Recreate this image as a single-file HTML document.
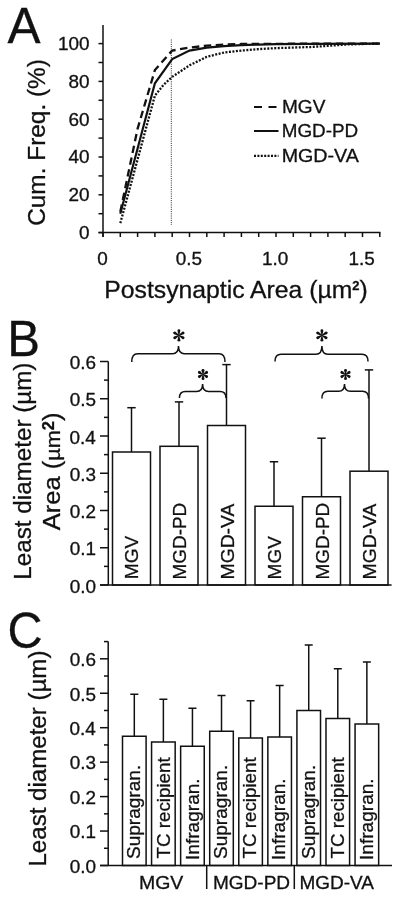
<!DOCTYPE html>
<html><head><meta charset="utf-8"><style>
html,body{margin:0;padding:0;background:#fff;width:400px;height:898px;overflow:hidden}
svg{display:block;will-change:transform}
text{font-family:"Liberation Sans", sans-serif;fill:#111;stroke:#111;stroke-width:0.3px}
</style></head><body>
<svg width="400" height="898" viewBox="0 0 400 898">
<text transform="translate(7.55,42.70) scale(0.9811,1)" font-size="50.5">A</text>
<line x1="103.00" y1="25.00" x2="103.00" y2="237.00" stroke="#111" stroke-width="1.5" />
<line x1="98.50" y1="232.60" x2="380.50" y2="232.60" stroke="#111" stroke-width="1.5" />
<line x1="98.50" y1="232.60" x2="103.00" y2="232.60" stroke="#111" stroke-width="1.5" />
<line x1="98.50" y1="213.70" x2="103.00" y2="213.70" stroke="#111" stroke-width="1.5" />
<line x1="98.50" y1="194.80" x2="103.00" y2="194.80" stroke="#111" stroke-width="1.5" />
<line x1="98.50" y1="175.90" x2="103.00" y2="175.90" stroke="#111" stroke-width="1.5" />
<line x1="98.50" y1="157.00" x2="103.00" y2="157.00" stroke="#111" stroke-width="1.5" />
<line x1="98.50" y1="138.10" x2="103.00" y2="138.10" stroke="#111" stroke-width="1.5" />
<line x1="98.50" y1="119.20" x2="103.00" y2="119.20" stroke="#111" stroke-width="1.5" />
<line x1="98.50" y1="100.30" x2="103.00" y2="100.30" stroke="#111" stroke-width="1.5" />
<line x1="98.50" y1="81.40" x2="103.00" y2="81.40" stroke="#111" stroke-width="1.5" />
<line x1="98.50" y1="62.50" x2="103.00" y2="62.50" stroke="#111" stroke-width="1.5" />
<line x1="98.50" y1="43.60" x2="103.00" y2="43.60" stroke="#111" stroke-width="1.5" />
<line x1="103.00" y1="232.60" x2="103.00" y2="237.00" stroke="#111" stroke-width="1.5" />
<line x1="120.30" y1="232.60" x2="120.30" y2="237.00" stroke="#111" stroke-width="1.5" />
<line x1="137.60" y1="232.60" x2="137.60" y2="237.00" stroke="#111" stroke-width="1.5" />
<line x1="154.90" y1="232.60" x2="154.90" y2="237.00" stroke="#111" stroke-width="1.5" />
<line x1="172.20" y1="232.60" x2="172.20" y2="237.00" stroke="#111" stroke-width="1.5" />
<line x1="189.50" y1="232.60" x2="189.50" y2="237.00" stroke="#111" stroke-width="1.5" />
<line x1="206.80" y1="232.60" x2="206.80" y2="237.00" stroke="#111" stroke-width="1.5" />
<line x1="224.10" y1="232.60" x2="224.10" y2="237.00" stroke="#111" stroke-width="1.5" />
<line x1="241.40" y1="232.60" x2="241.40" y2="237.00" stroke="#111" stroke-width="1.5" />
<line x1="258.70" y1="232.60" x2="258.70" y2="237.00" stroke="#111" stroke-width="1.5" />
<line x1="276.00" y1="232.60" x2="276.00" y2="237.00" stroke="#111" stroke-width="1.5" />
<line x1="293.30" y1="232.60" x2="293.30" y2="237.00" stroke="#111" stroke-width="1.5" />
<line x1="310.60" y1="232.60" x2="310.60" y2="237.00" stroke="#111" stroke-width="1.5" />
<line x1="327.90" y1="232.60" x2="327.90" y2="237.00" stroke="#111" stroke-width="1.5" />
<line x1="345.20" y1="232.60" x2="345.20" y2="237.00" stroke="#111" stroke-width="1.5" />
<line x1="362.50" y1="232.60" x2="362.50" y2="237.00" stroke="#111" stroke-width="1.5" />
<line x1="379.80" y1="232.60" x2="379.80" y2="237.00" stroke="#111" stroke-width="1.5" />
<text transform="translate(78.95,239.00) scale(1.0700,1)" font-size="17.7">0</text>
<text transform="translate(68.44,201.20) scale(1.0700,1)" font-size="17.7">20</text>
<text transform="translate(68.44,163.40) scale(1.0700,1)" font-size="17.7">40</text>
<text transform="translate(68.44,125.60) scale(1.0700,1)" font-size="17.7">60</text>
<text transform="translate(68.44,87.80) scale(1.0700,1)" font-size="17.7">80</text>
<text transform="translate(57.92,50.00) scale(1.0700,1)" font-size="17.7">100</text>
<text transform="translate(97.14,265.20) scale(1.0700,1)" font-size="17.7">0</text>
<text transform="translate(175.74,265.20) scale(1.0700,1)" font-size="17.7">0.5</text>
<text transform="translate(261.91,265.20) scale(1.0700,1)" font-size="17.7">1.0</text>
<text transform="translate(348.41,265.20) scale(1.0700,1)" font-size="17.7">1.5</text>
<text transform="translate(104.27,297.50) scale(1.0405,1)" font-size="23.8">Postsynaptic Area (µm<tspan font-size="12.5" font-weight="bold" dy="-8">2</tspan><tspan dy="8">)</tspan></text>
<text transform="translate(45.30,225.82) rotate(-90) scale(1.0008,1)" font-size="24.4">Cum. Freq. (%)</text>
<line x1="171.30" y1="39.50" x2="171.30" y2="225.00" stroke="#111" stroke-width="0.9" stroke-dasharray="1,1.2" stroke="#444"/>
<polyline points="120.30,223.15 154.90,95.57 163.55,84.80 172.20,76.86 189.50,65.34 206.80,56.83 224.10,52.48 241.40,50.59 258.70,49.08 276.00,48.14 293.30,47.57 310.60,47.00 327.90,45.87 345.20,44.55 362.50,43.98 379.80,43.60" fill="none" stroke="#111" stroke-width="2.3" stroke-linejoin="miter" stroke-dasharray="2,1.5"/>
<polyline points="120.30,213.70 154.90,83.29 172.20,59.10 189.50,50.59 206.80,47.57 224.10,46.06 241.40,45.11 258.70,44.55 276.00,44.17 310.60,43.79 379.80,43.60" fill="none" stroke="#111" stroke-width="2.2" stroke-linejoin="miter" />
<polyline points="120.30,211.81 137.60,128.65 154.90,70.06 172.20,50.59 189.50,47.57 206.80,45.68 224.10,44.55 241.40,43.98 276.00,43.79 379.80,43.60" fill="none" stroke="#111" stroke-width="2.3" stroke-linejoin="miter" stroke-dasharray="7.5,4.5"/>
<line x1="254.00" y1="107.00" x2="276.50" y2="107.00" stroke="#111" stroke-width="2.2" stroke-dasharray="8,6.5"/>
<line x1="254.00" y1="131.00" x2="278.50" y2="131.00" stroke="#111" stroke-width="2.0" />
<line x1="254.00" y1="155.80" x2="278.50" y2="155.80" stroke="#111" stroke-width="2.2" stroke-dasharray="2,1.4"/>
<text transform="translate(281.97,112.50) scale(1.0034,1)" font-size="19">MGV</text>
<text transform="translate(281.74,137.20) scale(0.9930,1)" font-size="19">MGD-PD</text>
<text transform="translate(281.68,162.00) scale(1.0355,1)" font-size="19">MGD-VA</text>
<text transform="translate(7.27,355.70) scale(0.9734,1)" font-size="50.5">B</text>
<line x1="108.30" y1="361.50" x2="108.30" y2="585.00" stroke="#111" stroke-width="1.5" />
<line x1="100.00" y1="585.00" x2="391.60" y2="585.00" stroke="#111" stroke-width="1.5" />
<line x1="100.00" y1="585.00" x2="108.30" y2="585.00" stroke="#111" stroke-width="1.5" />
<line x1="104.00" y1="566.38" x2="108.30" y2="566.38" stroke="#111" stroke-width="1.5" />
<line x1="100.00" y1="547.75" x2="108.30" y2="547.75" stroke="#111" stroke-width="1.5" />
<line x1="104.00" y1="529.12" x2="108.30" y2="529.12" stroke="#111" stroke-width="1.5" />
<line x1="100.00" y1="510.50" x2="108.30" y2="510.50" stroke="#111" stroke-width="1.5" />
<line x1="104.00" y1="491.88" x2="108.30" y2="491.88" stroke="#111" stroke-width="1.5" />
<line x1="100.00" y1="473.25" x2="108.30" y2="473.25" stroke="#111" stroke-width="1.5" />
<line x1="104.00" y1="454.62" x2="108.30" y2="454.62" stroke="#111" stroke-width="1.5" />
<line x1="100.00" y1="436.00" x2="108.30" y2="436.00" stroke="#111" stroke-width="1.5" />
<line x1="104.00" y1="417.38" x2="108.30" y2="417.38" stroke="#111" stroke-width="1.5" />
<line x1="100.00" y1="398.75" x2="108.30" y2="398.75" stroke="#111" stroke-width="1.5" />
<line x1="104.00" y1="380.12" x2="108.30" y2="380.12" stroke="#111" stroke-width="1.5" />
<line x1="100.00" y1="361.50" x2="108.30" y2="361.50" stroke="#111" stroke-width="1.5" />
<text transform="translate(69.63,592.50) scale(1.0700,1)" font-size="17.7">0.0</text>
<text transform="translate(69.82,555.25) scale(1.0700,1)" font-size="17.7">0.1</text>
<text transform="translate(69.82,518.00) scale(1.0700,1)" font-size="17.7">0.2</text>
<text transform="translate(69.73,480.75) scale(1.0700,1)" font-size="17.7">0.3</text>
<text transform="translate(69.44,443.50) scale(1.0700,1)" font-size="17.7">0.4</text>
<text transform="translate(69.63,406.25) scale(1.0700,1)" font-size="17.7">0.5</text>
<text transform="translate(69.73,369.00) scale(1.0700,1)" font-size="17.7">0.6</text>
<line x1="131.50" y1="407.70" x2="131.50" y2="452.00" stroke="#111" stroke-width="1.5" />
<line x1="127.30" y1="407.70" x2="135.70" y2="407.70" stroke="#111" stroke-width="1.5" />
<rect x="112.50" y="452.00" width="38" height="133.00" fill="none" stroke="#111" stroke-width="1.5"/>
<line x1="179.00" y1="401.90" x2="179.00" y2="446.30" stroke="#111" stroke-width="1.5" />
<line x1="174.80" y1="401.90" x2="183.20" y2="401.90" stroke="#111" stroke-width="1.5" />
<rect x="160.00" y="446.30" width="38" height="138.70" fill="none" stroke="#111" stroke-width="1.5"/>
<line x1="226.50" y1="364.60" x2="226.50" y2="425.50" stroke="#111" stroke-width="1.5" />
<line x1="222.30" y1="364.60" x2="230.70" y2="364.60" stroke="#111" stroke-width="1.5" />
<rect x="207.50" y="425.50" width="38" height="159.50" fill="none" stroke="#111" stroke-width="1.5"/>
<line x1="274.00" y1="461.75" x2="274.00" y2="506.25" stroke="#111" stroke-width="1.5" />
<line x1="269.80" y1="461.75" x2="278.20" y2="461.75" stroke="#111" stroke-width="1.5" />
<rect x="255.00" y="506.25" width="38" height="78.75" fill="none" stroke="#111" stroke-width="1.5"/>
<line x1="321.50" y1="438.20" x2="321.50" y2="496.75" stroke="#111" stroke-width="1.5" />
<line x1="317.30" y1="438.20" x2="325.70" y2="438.20" stroke="#111" stroke-width="1.5" />
<rect x="302.50" y="496.75" width="38" height="88.25" fill="none" stroke="#111" stroke-width="1.5"/>
<line x1="369.00" y1="369.90" x2="369.00" y2="471.20" stroke="#111" stroke-width="1.5" />
<line x1="364.80" y1="369.90" x2="373.20" y2="369.90" stroke="#111" stroke-width="1.5" />
<rect x="350.00" y="471.20" width="38" height="113.80" fill="none" stroke="#111" stroke-width="1.5"/>
<text transform="translate(138.00,579.22) rotate(-90) scale(1.0022,1)" font-size="19">MGV</text>
<text transform="translate(186.20,579.41) rotate(-90) scale(0.9950,1)" font-size="19">MGD-PD</text>
<text transform="translate(233.50,579.45) rotate(-90) scale(1.0170,1)" font-size="19">MGD-VA</text>
<text transform="translate(280.70,579.42) rotate(-90) scale(1.0010,1)" font-size="19">MGV</text>
<text transform="translate(328.60,579.41) rotate(-90) scale(0.9950,1)" font-size="19">MGD-PD</text>
<text transform="translate(376.00,579.45) rotate(-90) scale(1.0170,1)" font-size="19">MGD-VA</text>
<text transform="translate(30.70,579.64) rotate(-90) scale(0.9924,1)" font-size="24.4">Least diameter (µm)</text>
<text transform="translate(59.80,530.13) rotate(-90) scale(1.0350,1)" font-size="24.6">Area (<tspan font-size="21">µm</tspan><tspan font-size="16" font-weight="bold" dy="-6.3">2</tspan><tspan dy="6.3">)</tspan></text>
<path d="M131.70,362.00 Q131.70,353.80 137.70,353.80 L172.50,353.80 Q178.50,353.80 178.50,346.00 Q178.50,353.80 184.50,353.80 L219.00,353.80 Q225.00,353.80 225.00,362.00" fill="none" stroke="#111" stroke-width="1.5"/>
<path d="M179.40,398.00 Q179.40,391.50 185.40,391.50 L196.60,391.50 Q202.60,391.50 202.60,384.00 Q202.60,391.50 208.60,391.50 L220.00,391.50 Q226.00,391.50 226.00,398.00" fill="none" stroke="#111" stroke-width="1.5"/>
<path d="M275.00,361.50 Q275.00,354.30 281.00,354.30 L315.90,354.30 Q321.90,354.30 321.90,346.00 Q321.90,354.30 327.90,354.30 L362.00,354.30 Q368.00,354.30 368.00,361.50" fill="none" stroke="#111" stroke-width="1.5"/>
<path d="M321.90,398.50 Q321.90,391.30 327.90,391.30 L338.50,391.30 Q344.50,391.30 344.50,384.00 Q344.50,391.30 350.50,391.30 L362.50,391.30 Q368.50,391.30 368.50,398.50" fill="none" stroke="#111" stroke-width="1.5"/>
<path d="M179.25,335.40 L180.35,330.65 A1.45,1.45 0 1 0 177.45,330.65 L178.55,335.40Z" fill="#111"/>
<path d="M179.08,335.70 L183.74,334.28 A1.45,1.45 0 1 0 182.29,331.77 L178.72,335.10Z" fill="#111"/>
<path d="M179.08,335.10 L175.51,331.77 A1.45,1.45 0 1 0 174.06,334.28 L178.72,335.70Z" fill="#111"/>
<path d="M178.55,335.40 L177.45,340.15 A1.45,1.45 0 1 0 180.35,340.15 L179.25,335.40Z" fill="#111"/>
<path d="M178.72,335.10 L174.06,336.52 A1.45,1.45 0 1 0 175.51,339.03 L179.08,335.70Z" fill="#111"/>
<path d="M178.72,335.70 L182.29,339.03 A1.45,1.45 0 1 0 183.74,336.52 L179.08,335.10Z" fill="#111"/>
<path d="M203.35,374.50 L204.45,370.35 A1.45,1.45 0 1 0 201.55,370.35 L202.65,374.50Z" fill="#111"/>
<path d="M203.18,374.80 L207.32,373.68 A1.45,1.45 0 1 0 205.87,371.17 L202.82,374.20Z" fill="#111"/>
<path d="M203.18,374.20 L200.13,371.17 A1.45,1.45 0 1 0 198.68,373.68 L202.82,374.80Z" fill="#111"/>
<path d="M202.65,374.50 L201.55,378.65 A1.45,1.45 0 1 0 204.45,378.65 L203.35,374.50Z" fill="#111"/>
<path d="M202.82,374.20 L198.68,375.32 A1.45,1.45 0 1 0 200.13,377.83 L203.18,374.80Z" fill="#111"/>
<path d="M202.82,374.80 L205.87,377.83 A1.45,1.45 0 1 0 207.32,375.32 L203.18,374.20Z" fill="#111"/>
<path d="M322.25,335.40 L323.35,330.65 A1.45,1.45 0 1 0 320.45,330.65 L321.55,335.40Z" fill="#111"/>
<path d="M322.07,335.70 L326.74,334.28 A1.45,1.45 0 1 0 325.29,331.77 L321.72,335.10Z" fill="#111"/>
<path d="M322.07,335.10 L318.51,331.77 A1.45,1.45 0 1 0 317.06,334.28 L321.72,335.70Z" fill="#111"/>
<path d="M321.55,335.40 L320.45,340.15 A1.45,1.45 0 1 0 323.35,340.15 L322.25,335.40Z" fill="#111"/>
<path d="M321.72,335.10 L317.06,336.52 A1.45,1.45 0 1 0 318.51,339.03 L322.07,335.70Z" fill="#111"/>
<path d="M321.72,335.70 L325.29,339.03 A1.45,1.45 0 1 0 326.74,336.52 L322.07,335.10Z" fill="#111"/>
<path d="M345.85,374.50 L346.95,370.35 A1.45,1.45 0 1 0 344.05,370.35 L345.15,374.50Z" fill="#111"/>
<path d="M345.68,374.80 L349.82,373.68 A1.45,1.45 0 1 0 348.37,371.17 L345.32,374.20Z" fill="#111"/>
<path d="M345.68,374.20 L342.63,371.17 A1.45,1.45 0 1 0 341.18,373.68 L345.32,374.80Z" fill="#111"/>
<path d="M345.15,374.50 L344.05,378.65 A1.45,1.45 0 1 0 346.95,378.65 L345.85,374.50Z" fill="#111"/>
<path d="M345.32,374.20 L341.18,375.32 A1.45,1.45 0 1 0 342.63,377.83 L345.68,374.80Z" fill="#111"/>
<path d="M345.32,374.80 L348.37,377.83 A1.45,1.45 0 1 0 349.82,375.32 L345.68,374.20Z" fill="#111"/>
<text transform="translate(7.57,648.00) scale(0.9618,1)" font-size="50.5">C</text>
<line x1="108.20" y1="641.50" x2="108.20" y2="865.50" stroke="#111" stroke-width="1.5" />
<line x1="100.00" y1="865.50" x2="392.00" y2="865.50" stroke="#111" stroke-width="1.5" />
<line x1="100.00" y1="865.50" x2="108.20" y2="865.50" stroke="#111" stroke-width="1.5" />
<line x1="104.00" y1="848.27" x2="108.20" y2="848.27" stroke="#111" stroke-width="1.5" />
<line x1="100.00" y1="831.05" x2="108.20" y2="831.05" stroke="#111" stroke-width="1.5" />
<line x1="104.00" y1="813.83" x2="108.20" y2="813.83" stroke="#111" stroke-width="1.5" />
<line x1="100.00" y1="796.60" x2="108.20" y2="796.60" stroke="#111" stroke-width="1.5" />
<line x1="104.00" y1="779.38" x2="108.20" y2="779.38" stroke="#111" stroke-width="1.5" />
<line x1="100.00" y1="762.15" x2="108.20" y2="762.15" stroke="#111" stroke-width="1.5" />
<line x1="104.00" y1="744.92" x2="108.20" y2="744.92" stroke="#111" stroke-width="1.5" />
<line x1="100.00" y1="727.70" x2="108.20" y2="727.70" stroke="#111" stroke-width="1.5" />
<line x1="104.00" y1="710.48" x2="108.20" y2="710.48" stroke="#111" stroke-width="1.5" />
<line x1="100.00" y1="693.25" x2="108.20" y2="693.25" stroke="#111" stroke-width="1.5" />
<line x1="104.00" y1="676.02" x2="108.20" y2="676.02" stroke="#111" stroke-width="1.5" />
<line x1="100.00" y1="658.80" x2="108.20" y2="658.80" stroke="#111" stroke-width="1.5" />
<line x1="104.00" y1="641.58" x2="108.20" y2="641.58" stroke="#111" stroke-width="1.5" />
<text transform="translate(69.63,872.80) scale(1.0700,1)" font-size="17.7">0.0</text>
<text transform="translate(69.82,838.35) scale(1.0700,1)" font-size="17.7">0.1</text>
<text transform="translate(69.82,803.90) scale(1.0700,1)" font-size="17.7">0.2</text>
<text transform="translate(69.73,769.45) scale(1.0700,1)" font-size="17.7">0.3</text>
<text transform="translate(69.44,735.00) scale(1.0700,1)" font-size="17.7">0.4</text>
<text transform="translate(69.63,700.55) scale(1.0700,1)" font-size="17.7">0.5</text>
<text transform="translate(69.73,666.10) scale(1.0700,1)" font-size="17.7">0.6</text>
<line x1="134.30" y1="694.25" x2="134.30" y2="736.25" stroke="#111" stroke-width="1.5" />
<line x1="130.30" y1="694.25" x2="138.30" y2="694.25" stroke="#111" stroke-width="1.5" />
<rect x="122.50" y="736.25" width="23.6" height="129.25" fill="none" stroke="#111" stroke-width="1.5"/>
<line x1="163.37" y1="699.25" x2="163.37" y2="742.00" stroke="#111" stroke-width="1.5" />
<line x1="159.37" y1="699.25" x2="167.37" y2="699.25" stroke="#111" stroke-width="1.5" />
<rect x="151.57" y="742.00" width="23.6" height="123.50" fill="none" stroke="#111" stroke-width="1.5"/>
<line x1="192.44" y1="708.25" x2="192.44" y2="746.25" stroke="#111" stroke-width="1.5" />
<line x1="188.44" y1="708.25" x2="196.44" y2="708.25" stroke="#111" stroke-width="1.5" />
<rect x="180.64" y="746.25" width="23.6" height="119.25" fill="none" stroke="#111" stroke-width="1.5"/>
<line x1="221.51" y1="695.50" x2="221.51" y2="731.25" stroke="#111" stroke-width="1.5" />
<line x1="217.51" y1="695.50" x2="225.51" y2="695.50" stroke="#111" stroke-width="1.5" />
<rect x="209.71" y="731.25" width="23.6" height="134.25" fill="none" stroke="#111" stroke-width="1.5"/>
<line x1="250.58" y1="700.75" x2="250.58" y2="738.00" stroke="#111" stroke-width="1.5" />
<line x1="246.58" y1="700.75" x2="254.58" y2="700.75" stroke="#111" stroke-width="1.5" />
<rect x="238.78" y="738.00" width="23.6" height="127.50" fill="none" stroke="#111" stroke-width="1.5"/>
<line x1="279.65" y1="685.50" x2="279.65" y2="737.00" stroke="#111" stroke-width="1.5" />
<line x1="275.65" y1="685.50" x2="283.65" y2="685.50" stroke="#111" stroke-width="1.5" />
<rect x="267.85" y="737.00" width="23.6" height="128.50" fill="none" stroke="#111" stroke-width="1.5"/>
<line x1="308.72" y1="645.00" x2="308.72" y2="710.50" stroke="#111" stroke-width="1.5" />
<line x1="304.72" y1="645.00" x2="312.72" y2="645.00" stroke="#111" stroke-width="1.5" />
<rect x="296.92" y="710.50" width="23.6" height="155.00" fill="none" stroke="#111" stroke-width="1.5"/>
<line x1="337.79" y1="668.75" x2="337.79" y2="718.50" stroke="#111" stroke-width="1.5" />
<line x1="333.79" y1="668.75" x2="341.79" y2="668.75" stroke="#111" stroke-width="1.5" />
<rect x="325.99" y="718.50" width="23.6" height="147.00" fill="none" stroke="#111" stroke-width="1.5"/>
<line x1="366.86" y1="662.00" x2="366.86" y2="724.00" stroke="#111" stroke-width="1.5" />
<line x1="362.86" y1="662.00" x2="370.86" y2="662.00" stroke="#111" stroke-width="1.5" />
<rect x="355.06" y="724.00" width="23.6" height="141.50" fill="none" stroke="#111" stroke-width="1.5"/>
<text transform="translate(139.50,859.06) rotate(-90) scale(1.0034,1)" font-size="19">Supragran.</text>
<text transform="translate(170.17,858.58) rotate(-90) scale(0.9898,1)" font-size="19">TC recipient</text>
<text transform="translate(198.64,859.92) rotate(-90) scale(1.0039,1)" font-size="19">Infragran.</text>
<text transform="translate(226.61,859.06) rotate(-90) scale(1.0034,1)" font-size="19">Supragran.</text>
<text transform="translate(255.88,858.58) rotate(-90) scale(0.9898,1)" font-size="19">TC recipient</text>
<text transform="translate(285.25,859.92) rotate(-90) scale(1.0039,1)" font-size="19">Infragran.</text>
<text transform="translate(314.52,859.06) rotate(-90) scale(1.0034,1)" font-size="19">Supragran.</text>
<text transform="translate(343.59,858.58) rotate(-90) scale(0.9898,1)" font-size="19">TC recipient</text>
<text transform="translate(372.66,859.92) rotate(-90) scale(1.0039,1)" font-size="19">Infragran.</text>
<line x1="206.70" y1="865.50" x2="206.70" y2="889.00" stroke="#111" stroke-width="1.5" />
<line x1="294.30" y1="865.50" x2="294.30" y2="889.00" stroke="#111" stroke-width="1.5" />
<text transform="translate(138.94,889.00) scale(1.0262,1)" font-size="19">MGV</text>
<text transform="translate(212.98,888.50) scale(1.0011,1)" font-size="19">MGD-PD</text>
<text transform="translate(299.48,889.00) scale(0.9992,1)" font-size="19">MGD-VA</text>
<text transform="translate(46.00,866.53) rotate(-90) scale(0.9873,1)" font-size="24.4">Least diameter (µm)</text>
</svg></body></html>
